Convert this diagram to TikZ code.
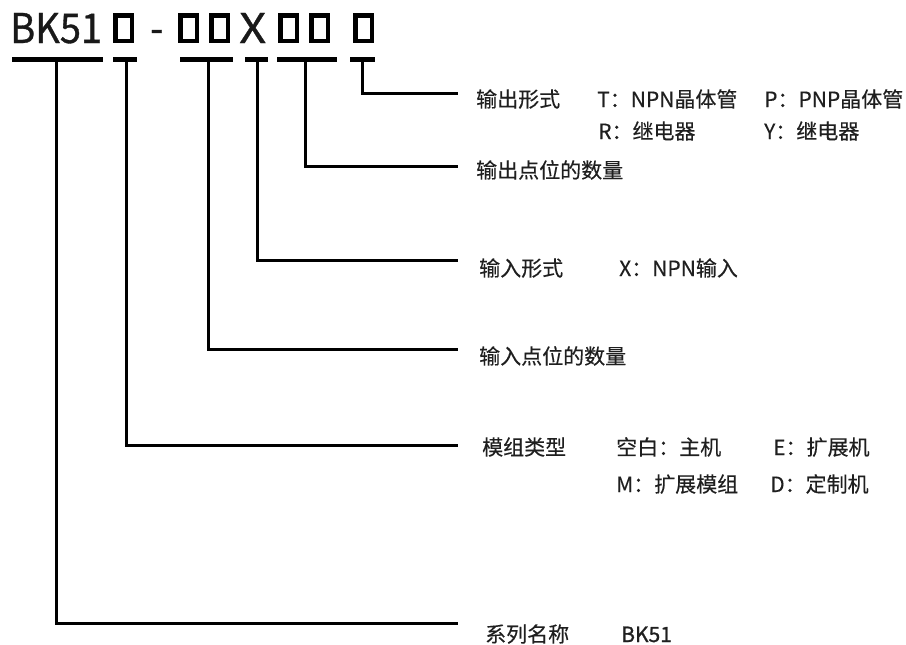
\documentclass[tikz,border=0pt]{standalone}
\usepackage{fontspec}
\setmainfont{Noto Sans CJK SC}[FakeBold=0.3]
\newfontfamily\headfont{Noto Sans CJK SC}[FakeStretch=0.93,FakeBold=0.8]
\newfontfamily\headxfont{Noto Sans CJK SC}[FakeStretch=1.15,FakeBold=0.8]
\newfontfamily\bkfont{Noto Sans CJK SC}[FakeBold=1.1]
\begin{document}
\begin{tikzpicture}[x=1pt,y=-1pt,
  lbl/.style={anchor=base west,inner sep=0pt,font=\fontsize{21}{21}\selectfont,text=black!88},
  head/.style={anchor=base west,inner sep=0pt,font=\headfont\fontsize{41}{41}\selectfont,text=black!90},
  bx/.style={draw=black,line width=4.5pt},
  bar/.style={draw=black,line width=5pt},
  conn/.style={draw=black,line width=3pt}]
\useasboundingbox (0,0) rectangle (906,645);
% header
\node[head] (bk) at (10,43) {BK51};
\draw[bx] (115.25,15.25) rectangle (131.75,40.75);
\node[head] (dash) at (150,43) {-};
\draw[bx] (180.25,15.25) rectangle (196.75,40.75);
\draw[bx] (211.25,15.25) rectangle (227.75,40.75);
\node[head,font=\headxfont\fontsize{41}{41}\selectfont] (xx) at (239,43) {X};
\draw[bx] (280.25,15.25) rectangle (296.75,40.75);
\draw[bx] (311.25,15.25) rectangle (327.75,40.75);
\draw[bx] (355.25,15.25) rectangle (371.75,40.75);
% bars
\draw[bar] (12,59.5) -- (103,59.5);
\draw[bar] (113,59.5) -- (137,59.5);
\draw[bar] (180,59.5) -- (233,59.5);
\draw[bar] (245,59.5) -- (268,59.5);
\draw[bar] (277,59.5) -- (337,59.5);
\draw[bar] (350,59.5) -- (375,59.5);
% connector start points
\coordinate (s1) at (362,59.5);
\coordinate (s2) at (305,59.5);
\coordinate (s3) at (257,59.5);
\coordinate (s4) at (208,59.5);
\coordinate (s5) at (126,59.5);
\coordinate (s6) at (56,59.5);
% connector end points
\coordinate (e1) at (458,93);
\coordinate (e2) at (458,166);
\coordinate (e3) at (458,260);
\coordinate (e4) at (458,349);
\coordinate (e5) at (458,445);
\coordinate (e6) at (458,623);
\draw[conn] (s1) |- (e1);
\draw[conn] (s2) |- (e2);
\draw[conn] (s3) |- (e3);
\draw[conn] (s4) |- (e4);
\draw[conn] (s5) |- (e5);
\draw[conn] (s6) |- (e6);
% labels
\node[lbl] (l1) at (476,107) {输出形式};
\node[lbl] (l1a) at (597,107) {T：NPN晶体管};
\node[lbl] (l1b) at (764,107) {P：PNP晶体管};
\node[lbl] (l1c) at (598,139) {R：继电器};
\node[lbl] (l1d) at (764,139) {Y：继电器};
\node[lbl] (l2) at (476,178) {输出点位的数量};
\node[lbl] (l3) at (479,276) {输入形式};
\node[lbl] (l3a) at (619,276) {X：NPN输入};
\node[lbl] (l4) at (479,364) {输入点位的数量};
\node[lbl] (l5) at (482,455) {模组类型};
\node[lbl] (l5a) at (616,455) {空白：主机};
\node[lbl] (l5b) at (773,455) {E：扩展机};
\node[lbl] (l5c) at (616,492) {M：扩展模组};
\node[lbl] (l5d) at (770,492) {D：定制机};
\node[lbl] (l6) at (485,642) {系列名称};
\node[lbl,font=\bkfont\fontsize{21}{21}\selectfont] (l6a) at (621,642) {BK51};
\end{tikzpicture}
\end{document}
